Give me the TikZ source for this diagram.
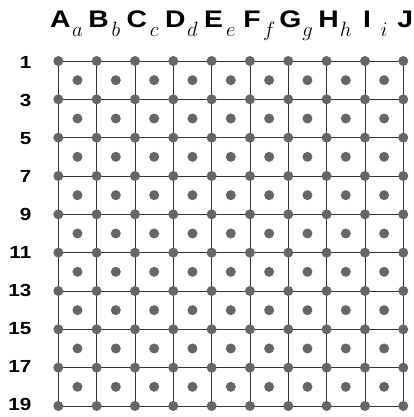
\documentclass[tikz,border=0pt]{standalone}
\usepackage{fontspec}
\newfontfamily\labfont[FakeStretch=1.18]{Liberation Sans}
\begin{document}
\begin{tikzpicture}[x=1pt,y=-1pt,
  gridline/.style={draw=black!80,line width=0.8pt},
  bigdot/.style={circle,fill=black!60,inner sep=0pt,minimum size=10pt},
  collab/.style={anchor=base,font=\labfont\bfseries\fontsize{24}{24}\selectfont,inner sep=0pt},
  sublab/.style={anchor=base,font=\fontsize{22}{22}\selectfont,inner sep=0pt},
  rowlab/.style={anchor=base east,font=\labfont\bfseries\fontsize{17.5}{17.5}\selectfont,inner sep=0pt}]
\useasboundingbox (0,0) rectangle (414,417);
% grid points
\foreach \i in {0,...,9}{
  \foreach \j in {0,...,9}{
    \coordinate (c\i-\j) at ({58.3+38.33*\i},{61+38.33*\j});
  }
}
% lines
\foreach \j in {0,...,9}{
  \draw[gridline] (c0-\j) -- (c9-\j);
  \draw[gridline] (c\j-0) -- (c\j-9);
}
% corner dots
\foreach \i in {0,...,9}{
  \foreach \j in {0,...,9}{
    \node[bigdot] (p\i-\j) at (c\i-\j) {};
  }
}
% centre dots
\foreach \i in {0,...,8}{
  \foreach \j in {0,...,8}{
    \node[bigdot] (m\i-\j) at ({58.3+38.33*\i+19.17},{61+38.33*\j+19.17}) {};
  }
}
% column labels
\foreach \L [count=\k from 0] in {A,B,C,D,E,F,G,H,I,J}{
  \node[collab] (col\k) at ({60.3+38.33*\k},27.3) {\L};
}
\foreach \l [count=\k from 0] in {a,b,c,d,e,f,g,h,i}{
  \node[sublab] (sub\k) at ({77.5+38.33*\k},37) {$\l$};
}
% row labels
\foreach \n [count=\k from 0] in {1,3,5,7,9,11,13,15,17,19}{
  \node[rowlab] (row\k) at (31.5,{62.8+37.97*\k+6.1}) {\n};
}
\end{tikzpicture}
\end{document}
